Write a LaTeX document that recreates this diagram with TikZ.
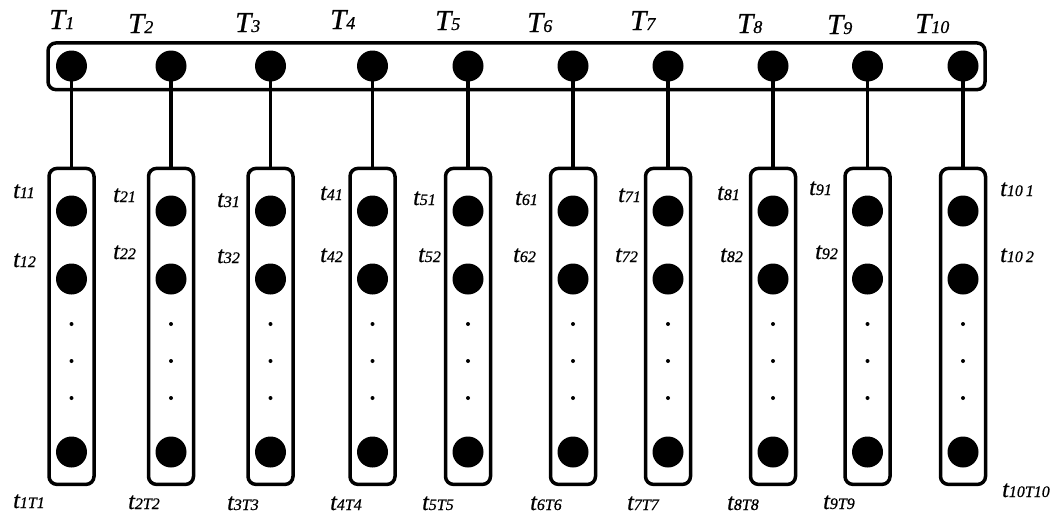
\documentclass[tikz,border=0pt]{standalone}
\usepackage{fontspec}
\setmainfont{Liberation Serif}[ItalicFeatures={FakeBold=0.7}]
\newcommand\lowsub[1]{{\fontsize{16}{16}\selectfont #1}}
\newcommand\topsub[1]{{\fontsize{18}{18}\selectfont #1}}
\begin{document}
\begin{tikzpicture}[x=1pt,y=-1pt,
  frame/.style={draw=black, line width=3.5pt, rounded corners=8pt, inner sep=0pt},
  bigdot/.style={circle, fill=black, inner sep=0pt, minimum size=31pt},
  smalldot/.style={circle, fill=black, inner sep=0pt, minimum size=4pt},
  link/.style={draw=black, line width=3.2pt},
  toplab/.style={inner sep=0pt, anchor=base west, font=\fontsize{29}{29}\selectfont\itshape},
  lab/.style={inner sep=0pt, anchor=base west, font=\fontsize{24}{24}\selectfont\itshape}]

\useasboundingbox[fill=white] (0,0) rectangle (1061,515);

% top bar holding the T nodes
\node[frame, minimum width=937pt, minimum height=46.7pt] (bar) at (516.5,66.3) {};

% one column per T_i: top dot, lower frame, its dots
\foreach \i/\x in {1/71.5,2/171,3/270.5,4/372.5,5/468,6/573,7/668,8/773,9/867.5,10/963}{
  \node[frame, minimum width=45pt, minimum height=316pt] (box\i) at (\x,326.4) {};
  \node[bigdot] (top\i) at (\x,66) {};
  \draw[link] (top\i.center) -- (box\i.north);
  \node[bigdot] (d\i a) at (\x,211) {};
  \node[bigdot] (d\i b) at (\x,279) {};
  \node[bigdot] (d\i z) at (\x,452) {};
  \node[smalldot] (s\i a) at (\x,324) {};
  \node[smalldot] (s\i b) at (\x,361) {};
  \node[smalldot] (s\i c) at (\x,398) {};
}

% labels of the top nodes
\foreach \i/\x/\y in {1/49/29,2/128/33,3/235/32,4/330/29,5/435/30,6/527/32,7/630/30,8/737/33,9/827/34,10/915/33}{
  \node[toplab] (T\i) at (\x,\y) {T\topsub{\i}};
}

% labels of the lower nodes
\foreach \i/\xa/\ya/\xb/\yb/\xc/\yc in {1/13/198/13/267/13/508,2/113/202/113/259/128/509,
    3/217/207/217/263/227/510,4/320/200/320/262/330/510,5/413/205/418/262/422/510,
    6/515/205/513/262/530/510,7/618/202/615/262/627/510,8/717/200/720/262/727/510,
    9/809/195/815/259/823/509}{
  \node[lab] (t\i a) at (\xa,\ya) {t\lowsub{\i1}};
  \node[lab] (t\i b) at (\xb,\yb) {t\lowsub{\i2}};
  \node[lab] (t\i z) at (\xc,\yc) {t\lowsub{\i T\i}};
}
\node[lab] (t10a) at (1000,196) {t\lowsub{10\kern3pt 1}};
\node[lab] (t10b) at (1000,262) {t\lowsub{10\kern3pt 2}};
\node[lab] (t10z) at (1002,497) {t\lowsub{10T10}};
\end{tikzpicture}
\end{document}
